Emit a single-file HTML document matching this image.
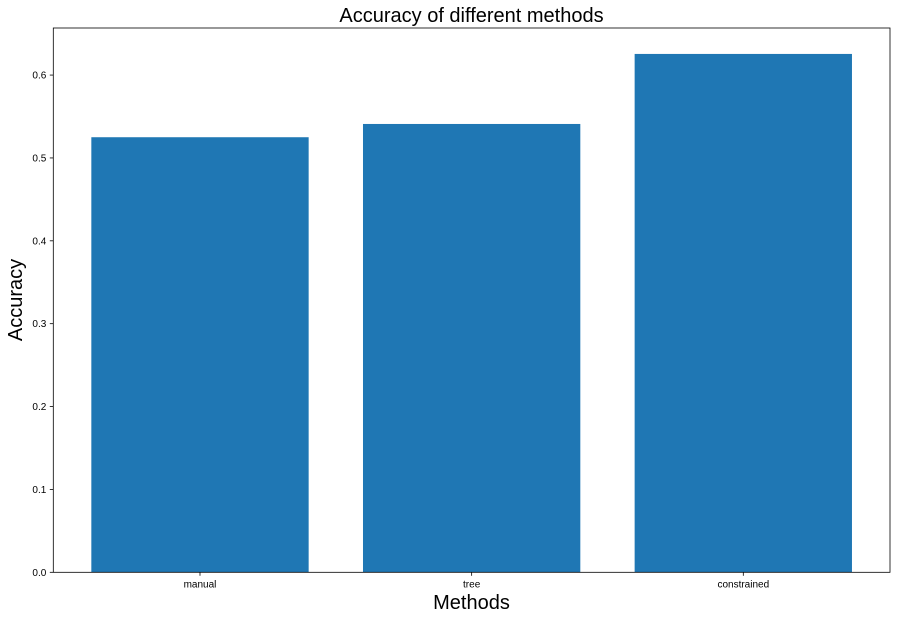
<!DOCTYPE html>
<html><head><meta charset="utf-8"><style>
html,body{margin:0;padding:0;background:#fff;}
svg{display:block;font-family:"Liberation Sans","DejaVu Sans",sans-serif;}
</style></head><body>
<svg id="chart" width="897" height="619" xmlns="http://www.w3.org/2000/svg">
<text x="471.5" y="22" font-size="20" text-anchor="middle" fill="#000">Accuracy of different methods</text>
<text x="471.5" y="609" font-size="20" text-anchor="middle" fill="#000">Methods</text>
<text transform="translate(22,300) rotate(-90)" font-size="20" text-anchor="middle" fill="#000">Accuracy</text>
<g id="bars"></g>
<g id="axes"></g>
</svg>
<script>
const categories = ["manual", "tree", "constrained"];
const values = [0.525, 0.541, 0.6255];
const yTicks = [0, 0.1, 0.2, 0.3, 0.4, 0.5, 0.6];
const yTickLabels = ["0.0", "0.1", "0.2", "0.3", "0.4", "0.5", "0.6"];

const L = 53.3, R = 890, T = 28, B = 572.3;
const xMin = -0.54, xMax = 2.54, yMin = 0, yMax = 0.6568;
const xs = v => L + (v - xMin) / (xMax - xMin) * (R - L);
const ys = v => B - (v - yMin) / (yMax - yMin) * (B - T);
const NS = "http://www.w3.org/2000/svg";
const barsG = document.getElementById('bars');
const axesG = document.getElementById('axes');
function mk(tag, attrs, parent) {
  const e = document.createElementNS(NS, tag);
  for (const k in attrs) e.setAttribute(k, attrs[k]);
  parent.appendChild(e);
  return e;
}
categories.forEach((c, i) => {
  const x0 = xs(i - 0.4), x1 = xs(i + 0.4);
  const r = mk('rect', {x: x0, y: ys(values[i]), width: x1 - x0, height: ys(0) - ys(values[i]), fill: '#1f77b4'}, barsG);
  
  
  const tk = mk('line', {x1: xs(i), x2: xs(i), y1: B, y2: B + 3.5, stroke: '#000', 'stroke-width': 0.8}, axesG);
  
  
  const t = mk('text', {x: xs(i), y: B + 15, 'font-size': 10, 'text-anchor': 'middle', fill: '#000'}, axesG);
  t.textContent = c;
  
  
});
yTicks.forEach((v, i) => {
  const tk = mk('line', {x1: L - 3.5, x2: L, y1: ys(v), y2: ys(v), stroke: '#000', 'stroke-width': 0.8}, axesG);
  
  
  const t = mk('text', {x: L - 7, y: ys(v) + 3.5, 'font-size': 10, 'text-anchor': 'end', fill: '#000'}, axesG);
  t.textContent = yTickLabels[i];
  
  
});
const frame = mk('rect', {x: L, y: T, width: R - L, height: B - T, fill: 'none', stroke: '#000', 'stroke-width': 0.8}, axesG);


</script>
</body></html>
